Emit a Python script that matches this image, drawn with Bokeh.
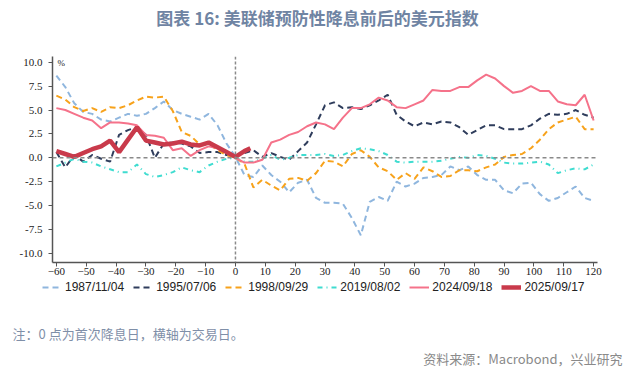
from bokeh.plotting import figure
from bokeh.layouts import column
from bokeh.models import Range1d, FixedTicker, NumeralTickFormatter, Span, Label, Legend, LegendItem
from bokeh.embed import file_html
from bokeh.resources import INLINE

# ---------------- data ----------------
days = list(range(-60, 121, 3))
days_2025 = list(range(-60, 4, 3)) + [5]

s1987 = [8.6, 7.4, 5.7, 4.8, 4.6, 4.0, 3.8, 4.2, 4.6, 4.4, 4.6, 5.2, 5.9, 5.0, 4.6, 4.3, 4.0, 4.6, 3.4, 1.5,
         0.1, -1.8, -2.0, -0.8, -1.8, -2.5, -3.6, -2.6, -2.3, -4.2, -4.7, -4.7, -4.8, -6.3, -8.1, -4.6, -4.1,
         -4.5, -2.5, -3.0, -2.7, -2.1, -2.0, -1.8, -0.9, -1.3, -0.9, -1.8, -2.3, -2.3, -3.4, -3.7, -2.7, -2.6,
         -3.8, -4.5, -4.2, -3.6, -3.0, -4.2, -4.5]
s1995 = [0.6, -1.0, 0.3, -0.4, 0.3, -0.1, -0.4, 2.4, 2.9, 3.2, 2.4, 0.0, 1.5, 1.6, 1.5, 1.2, 0.5, 0.6, 0.6, 0.3,
         0.2, 0.5, 0.8, 0.1, 0.5, 0.1, -0.2, 0.7, 1.6, 3.5, 5.5, 5.8, 5.2, 5.3, 5.1, 5.5, 6.0, 6.6, 4.5, 3.8,
         3.3, 3.7, 3.5, 3.8, 3.7, 3.2, 2.4, 2.9, 3.4, 3.4, 3.0, 3.0, 3.0, 3.4, 4.1, 4.6, 4.5, 4.6, 5.0, 4.5, 4.2]
s1998 = [6.5, 6.1, 5.3, 4.9, 5.2, 4.8, 5.3, 5.2, 5.5, 6.0, 6.4, 6.3, 6.4, 4.9, 2.7, 2.3, 1.4, 1.5, 0.8, 0.3,
         0.0, -0.6, -3.1, -2.3, -2.9, -3.4, -2.2, -2.1, -2.4, -1.6, -0.3, -0.4, -0.9, 0.4, 0.8, 0.1, -1.0,
         -1.4, -2.3, -1.6, -2.2, -1.0, -1.4, -2.0, -1.9, -1.3, -1.3, -1.4, -1.0, -0.7, 0.1, 0.3, 0.4, 1.0,
         1.9, 3.0, 3.7, 4.0, 4.3, 3.0, 3.0]
s2019 = [-0.9, -0.5, -0.1, -0.4, -0.5, -0.9, -1.2, -1.5, -1.5, -0.7, -1.7, -2.0, -1.8, -1.5, -1.0, -1.3, -1.5,
         -0.8, -0.4, -0.1, 0.0, -0.4, -0.4, -0.1, 0.3, -0.2, 0.0, 0.3, 0.3, 0.3, 0.4, 0.2, 0.3, 0.7, 1.0, 0.9,
         0.7, 0.3, -0.4, -0.5, -0.4, -0.4, -0.4, -0.3, -0.1, 0.1, 0.0, 0.3, 0.2, -0.1, -0.5, -0.6, -0.6, -0.5,
         -0.4, -0.7, -1.6, -1.3, -1.1, -1.2, -0.7]
s2024 = [5.2, 5.0, 4.6, 4.2, 3.9, 3.1, 3.7, 3.7, 3.6, 3.4, 2.4, 2.3, 2.1, 0.8, 1.0, 0.2, 0.8, 1.2, 1.0, 0.6,
         0.0, -0.5, -0.5, -0.2, 1.6, 1.9, 2.4, 2.7, 3.3, 3.7, 3.5, 3.0, 4.2, 5.2, 5.2, 5.6, 6.3, 6.0, 5.3, 5.2,
         5.6, 6.0, 7.1, 7.0, 7.0, 7.4, 7.4, 8.1, 8.7, 8.3, 7.5, 6.8, 7.0, 7.5, 7.0, 7.0, 5.9, 5.6, 5.5, 6.6, 3.9]
s2025 = [0.7, 0.4, 0.1, 0.5, 0.9, 1.2, 1.8, 0.6, 1.9, 3.2, 1.8, 1.6, 1.4, 1.5, 1.7, 1.4, 1.3, 1.6, 1.1, 0.6,
         0.1, 0.7, 1.0]

x_ticks = list(range(-60, 121, 10))
y_ticks = [-10.0, -7.5, -5.0, -2.5, 0.0, 2.5, 5.0, 7.5, 10.0]

names = ["1987/11/04", "1995/07/06", "1998/09/29", "2019/08/02", "2024/09/18", "2025/09/17"]
colors = ["#8fb6de", "#2f3d5c", "#f7a21b", "#3fdcd0", "#f5728a", "#c93a4b"]
dashes = ["6 4", "6 4", "6 4", "5 4 1 4", "solid", "solid"]
widths = [2, 2, 2, 2, 2, 4.5]
title_text = "图表 16: 美联储预防性降息前后的美元指数"
note_text = "注：0 点为首次降息日，横轴为交易日。"
source_text = "资料来源：Macrobond，兴业研究"

W = 640
series = [(days, s1987), (days, s1995), (days, s1998), (days, s2019), (days, s2024), (days_2025, s2025)]


def blank(height, xr=(0, 1), yr=(0, 1)):
    f = figure(width=W, height=height, output_backend="svg", toolbar_location=None,
               x_range=Range1d(*xr), y_range=Range1d(*yr),
               x_axis_type=None, y_axis_type=None, frame_align=False,
               min_border_left=0, min_border_right=0, min_border_top=0, min_border_bottom=0)
    f.outline_line_color = None
    f.background_fill_color = "white"
    f.border_fill_color = "white"
    return f


# ---------------- header ----------------
header = blank(48)
header.add_layout(Label(x=317, y=31, x_units="screen", y_units="screen", text=title_text,
                        text_font="Noto Sans CJK SC", text_font_size="17px", text_font_style="bold",
                        text_color="#6f84a3", text_align="center", text_baseline="middle"))

# ---------------- main chart ----------------
p = figure(width=W, height=232, output_backend="svg", toolbar_location=None, frame_align=False,
           x_range=Range1d(-61.3, 121.3), y_range=Range1d(-10.95, 10.6),
           min_border_left=52, min_border_right=43, min_border_top=8, min_border_bottom=18)
p.outline_line_color = None
p.xgrid.visible = False
p.ygrid.visible = False
p.background_fill_color = "white"
p.border_fill_color = "white"

for ax in (p.xaxis[0], p.yaxis[0]):
    ax.axis_line_color = "#555555"
    ax.axis_line_width = 1.5
    ax.major_tick_line_color = "#555555"
    ax.major_tick_line_width = 1
    ax.major_tick_out = 4
    ax.major_tick_in = 0
    ax.minor_tick_line_color = None
    ax.major_label_text_font = "Liberation Serif"
    ax.major_label_text_font_size = "11px"
    ax.major_label_text_color = "#222222"

p.xaxis.ticker = FixedTicker(ticks=x_ticks)
p.yaxis.ticker = FixedTicker(ticks=y_ticks)
p.yaxis.formatter = NumeralTickFormatter(format="0.0")
p.xaxis.major_label_standoff = 1
p.yaxis.major_label_standoff = 6

p.add_layout(Span(location=0, dimension="width", line_color="#8a8a8a", line_width=1.5, line_dash="4 3"))
p.add_layout(Span(location=0, dimension="height", line_color="#8a8a8a", line_width=1.5, line_dash="3 2"))

for (xs, ys), c, d, w in zip(series, colors, dashes, widths):
    p.line(xs, ys, line_color=c, line_width=w, line_dash=d)

p.add_layout(Label(x=5, y=200, x_units="screen", y_units="screen", text="%",
                   text_font="Liberation Serif", text_font_size="9px",
                   text_color="#222222", text_align="left", text_baseline="middle"))

# ---------------- footer: legend + notes ----------------
# the footer's ranges lie far from the data, so its copies of the series only feed the legend keys
footer = blank(90, xr=(1000, 1001), yr=(1000, 1001))
items = []
for (xs, ys), n, c, d, w in zip(series, names, colors, dashes, widths):
    r = footer.line(xs, ys, line_color=c, line_width=w, line_dash=d)
    items.append(LegendItem(label=n, renderers=[r]))
legend = Legend(items=items, orientation="horizontal", location=(42, 76),
                label_text_font="Liberation Sans", label_text_font_size="12px", label_text_color="#222222",
                glyph_width=20, glyph_height=12, label_standoff=3, spacing=9, padding=0, margin=0,
                border_line_color=None, background_fill_alpha=0, label_height=12)
footer.add_layout(legend)

footer.add_layout(Label(x=12, y=37, x_units="screen", y_units="screen", text=note_text,
                        text_font="Noto Sans CJK SC", text_font_size="13px",
                        text_color="#7f8fa8", text_align="left", text_baseline="middle"))
footer.add_layout(Label(x=622, y=12, x_units="screen", y_units="screen", text=source_text,
                        text_font="Noto Sans CJK SC", text_font_size="13px",
                        text_color="#8a8a8a", text_align="right", text_baseline="middle"))

layout = column(header, p, footer, spacing=0)
open("out.html", "w").write(file_html(layout, INLINE))
